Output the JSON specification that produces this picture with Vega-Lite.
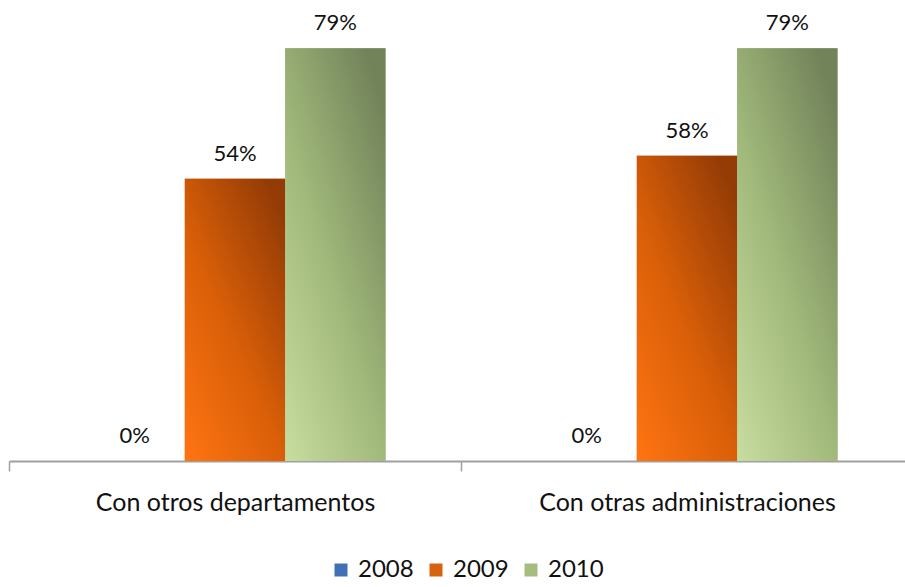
{
  "$schema": "https://vega.github.io/schema/vega-lite/v6.json",
  "width": 896,
  "height": 418,
  "autosize": {"type": "none"},
  "padding": {"left": 9, "top": 43, "right": 0, "bottom": 126},
  "background": "white",
  "data": {
    "values": [
      {"category": "Con otros departamentos", "year": "2008", "value": 0},
      {"category": "Con otros departamentos", "year": "2009", "value": 0.54},
      {"category": "Con otros departamentos", "year": "2010", "value": 0.79},
      {"category": "Con otras administraciones", "year": "2008", "value": 0},
      {"category": "Con otras administraciones", "year": "2009", "value": 0.584},
      {"category": "Con otras administraciones", "year": "2010", "value": 0.79}
    ]
  },
  "encoding": {
    "x": {
      "field": "category",
      "type": "nominal",
      "sort": null,
      "title": null,
      "scale": {"range": [0, 904], "paddingInner": 0.334, "paddingOuter": 0.167},
      "axis": {
        "domainColor": "#A0A0A0",
        "domainWidth": 2,
        "tickColor": "#A0A0A0",
        "tickWidth": 1.5,
        "tickSize": 10,
        "tickOffset": -226,
        "labelOffset": 226,
        "labelAngle": 0,
        "labelLimit": 0,
        "labelFont": "Lato",
        "labelFontSize": 25,
        "labelColor": "#111111",
        "labelPadding": 19,
        "labelBaseline": "top"
      }
    },
    "xOffset": {
      "field": "year",
      "type": "nominal",
      "scale": {"paddingInner": 0, "paddingOuter": 0}
    },
    "y": {
      "field": "value",
      "type": "quantitative",
      "scale": {"domain": [0, 0.8]},
      "axis": null
    }
  },
  "layer": [
    {
      "mark": {"type": "bar"},
      "encoding": {
        "color": {
          "field": "year",
          "type": "nominal",
          "title": null,
          "scale": {
            "domain": ["2008", "2009", "2010"],
            "range": ["#3F72B5", "#D5620C", "#A5BD7E"]
          },
          "legend": {
            "orient": "none",
            "direction": "horizontal",
            "legendX": 320,
            "legendY": 515,
            "symbolType": "square",
            "symbolSize": 169,
            "symbolStrokeWidth": 0,
            "symbolOpacity": 1,
            "labelFont": "Lato",
            "labelFontSize": 24,
            "labelColor": "#111111",
            "labelOffset": 5,
            "columnSpacing": 20
          }
        }
      }
    },
    {
      "mark": {"type": "bar"},
      "encoding": {
        "fill": {
          "condition": [
            {"test": "datum.year === '2009'", "value": {"gradient": "linear", "x1": 0, "y1": 1, "x2": 0.8, "y2": 0, "stops": [{"offset": 0, "color": "#FF7412"}, {"offset": 0.5, "color": "#D95F08"}, {"offset": 1, "color": "#953C06"}]}},
            {"test": "datum.year === '2010'", "value": {"gradient": "linear", "x1": 0, "y1": 1, "x2": 0.8, "y2": 0, "stops": [{"offset": 0, "color": "#C8DDA0"}, {"offset": 0.5, "color": "#A0B87A"}, {"offset": 1, "color": "#72835A"}]}}
          ],
          "value": {"gradient": "linear", "x1": 0, "y1": 1, "x2": 1, "y2": 0, "stops": [{"offset": 0, "color": "#5A8FD0"}, {"offset": 1, "color": "#2F5E9E"}]}
        }
      }
    },
    {
      "mark": {"type": "text", "dy": -18, "baseline": "alphabetic", "font": "Lato", "fontSize": 22, "color": "#111111"},
      "encoding": {
        "text": {"field": "value", "type": "quantitative", "format": ".0%"}
      }
    }
  ],
  "config": {"view": {"stroke": null}}
}
